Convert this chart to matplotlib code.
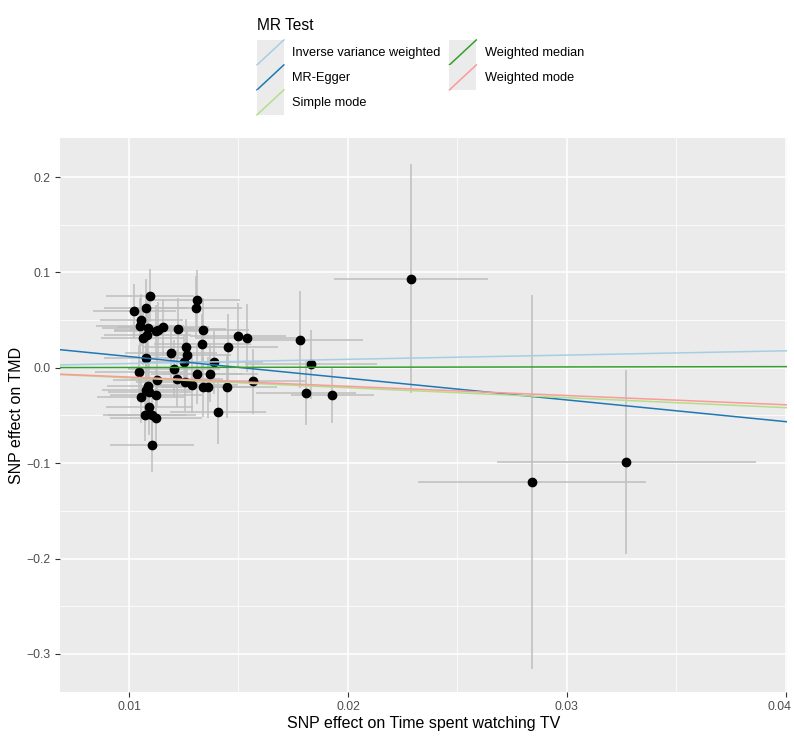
import matplotlib.pyplot as plt
from matplotlib.legend_handler import HandlerBase
from matplotlib.lines import Line2D
from matplotlib.patches import Rectangle
from matplotlib.transforms import ScaledTranslation

plt.rcParams['font.family'] = ['Liberation Sans', 'DejaVu Sans']

# SNP effects on exposure (x) and outcome (y) with standard errors
beta_exp = [0.01096, 0.01024, 0.01078, 0.01309, 0.01306, 0.01056, 0.01049, 0.01087,
            0.01063, 0.01084, 0.01123, 0.01132, 0.01157, 0.01224, 0.01339, 0.01335,
            0.01260, 0.01190, 0.01266, 0.01253, 0.01390, 0.01451, 0.01498, 0.01540,
            0.01078, 0.01205, 0.01047, 0.01309, 0.01368, 0.01129, 0.01221, 0.01254,
            0.01286, 0.01088, 0.01078, 0.01093, 0.01056, 0.01123, 0.01337, 0.01362,
            0.01446, 0.01565, 0.01093, 0.01072, 0.01105, 0.01123, 0.01408, 0.01105,
            0.01780, 0.01832, 0.01809, 0.01928, 0.02288, 0.02839, 0.03272]
beta_out = [0.0758, 0.0597, 0.0629, 0.0716, 0.0629, 0.0500, 0.0437, 0.0416,
            0.0311, 0.0343, 0.0388, 0.0395, 0.0423, 0.0409, 0.0395, 0.0252,
            0.0213, 0.0154, 0.0129, 0.0066, 0.0059, 0.0213, 0.0335, 0.0311,
            0.0108, -0.0010, -0.0039, -0.0066, -0.0063, -0.0126, -0.0115, -0.0147,
            -0.0178, -0.0189, -0.0231, -0.0255, -0.0304, -0.0287, -0.0206, -0.0203,
            -0.0199, -0.0143, -0.0412, -0.0490, -0.0500, -0.0524, -0.0465, -0.0814,
            0.0296, 0.0035, -0.0260, -0.0286, 0.0933, -0.1194, -0.0984]
se_exp = [0.0020, 0.0019, 0.0019, 0.0020, 0.0021, 0.0019, 0.0020, 0.0021,
          0.0019, 0.0020, 0.0019, 0.0020, 0.0021, 0.0022, 0.0021, 0.0022,
          0.0020, 0.0021, 0.0020, 0.0021, 0.0022, 0.0023, 0.0022, 0.0023,
          0.0019, 0.0021, 0.0020, 0.0021, 0.0022, 0.0020, 0.0021, 0.0022,
          0.0021, 0.0019, 0.0020, 0.0019, 0.0020, 0.0021, 0.0022, 0.0021,
          0.0023, 0.0024, 0.0020, 0.0019, 0.0020, 0.0021, 0.0022, 0.0019,
          0.0029, 0.0030, 0.0023, 0.0019, 0.0035, 0.0052, 0.0059]
se_out = [0.028, 0.028, 0.030, 0.031, 0.033, 0.027, 0.029, 0.031,
          0.028, 0.030, 0.027, 0.029, 0.030, 0.032, 0.034, 0.031,
          0.030, 0.029, 0.031, 0.028, 0.033, 0.035, 0.034, 0.036,
          0.027, 0.030, 0.028, 0.031, 0.030, 0.029, 0.030, 0.031,
          0.030, 0.028, 0.027, 0.029, 0.028, 0.030, 0.031, 0.032,
          0.033, 0.034, 0.029, 0.028, 0.030, 0.031, 0.033, 0.028,
          0.051, 0.036, 0.034, 0.029, 0.120, 0.196, 0.0965]

# MR method fits
methods = ['Inverse variance weighted', 'MR-Egger', 'Simple mode',
           'Weighted median', 'Weighted mode']
slopes = [0.445, -2.277, -1.045, 0.03, -0.97]
intercepts = [0.0, 0.0346, 0.0, 0.0, 0.0]
colors = ['#a6cee3', '#1f78b4', '#b2df8a', '#33a02c', '#fb9a99']


class DiagKey(HandlerBase):
    def create_artists(self, legend, orig_handle, xdescent, ydescent,
                       width, height, fontsize, trans):
        bg = Rectangle((-xdescent, -ydescent), width, height,
                       facecolor='#EBEBEB', edgecolor='none', transform=trans)
        ln = Line2D([-xdescent, -xdescent + width], [-ydescent, -ydescent + height],
                    color=orig_handle.get_color(), lw=orig_handle.get_linewidth(),
                    transform=trans)
        return [bg, ln]


fig = plt.figure(figsize=(7.94, 7.41), dpi=100)
ax = fig.add_axes([60 / 794, 1 - 692 / 741, 727 / 794, 554 / 741])
ax.set_facecolor('#EBEBEB')
for s in ax.spines.values():
    s.set_visible(False)

ax.set_xlim(0.00685, 0.04005)
ax.set_ylim(-0.340, 0.241)
ax.set_xticks([0.01, 0.02, 0.03, 0.04])
ax.set_xticklabels(['0.01', '0.02', '0.03', '0.04'])
ax.set_xticks([0.015, 0.025, 0.035], minor=True)
ax.set_yticks([-0.3, -0.2, -0.1, 0.0, 0.1, 0.2])
ax.set_yticklabels(['\u22120.3', '\u22120.2', '\u22120.1', '0.0', '0.1', '0.2'])
ax.set_yticks([-0.25, -0.15, -0.05, 0.05, 0.15], minor=True)
ax.grid(which='major', color='white', linewidth=1.1)
ax.grid(which='minor', color='white', linewidth=0.55)
ax.set_axisbelow(True)
ax.tick_params(which='major', length=3.5, width=0.8, color='#333333',
               labelcolor='#4D4D4D', labelsize=8.8, pad=3)
ax.tick_params(which='minor', length=0)

# keep the last x label inside the figure
last = ax.get_xticklabels()[-1]
last.set_transform(last.get_transform() + ScaledTranslation(-6 / 100, 0, fig.dpi_scale_trans))

ax.errorbar(beta_exp, beta_out, yerr=se_out, fmt='none', ecolor='#BEBEBE',
            elinewidth=1.1, capsize=0, zorder=2)
ax.errorbar(beta_exp, beta_out, xerr=se_exp, fmt='none', ecolor='#BEBEBE',
            elinewidth=1.1, capsize=0, zorder=2)
ax.scatter(beta_exp, beta_out, s=36, color='black', zorder=3)

handles = []
for m, b, c, name in zip(slopes, intercepts, colors, methods):
    ax.axline((0, b), slope=m, color=c, lw=1.1, zorder=4, label=name)
    handles.append(Line2D([], [], color=c, lw=1.1))

ax.set_xlabel('SNP effect on Time spent watching TV', fontsize=11.5, labelpad=2)
ax.set_ylabel('SNP effect on TMD', fontsize=11.5, labelpad=2)

leg = fig.legend(handles, methods, ncol=2, loc='upper left',
                 bbox_to_anchor=(257 / 794, 1 - 18 / 741), frameon=False,
                 title='MR Test', title_fontsize=11.2, fontsize=9.2,
                 handlelength=2.1, handleheight=2.63, labelspacing=0.0,
                 handletextpad=0.65, columnspacing=0.7, borderpad=0,
                 borderaxespad=0, alignment='left',
                 handler_map={Line2D: DiagKey()})
leg._legend_box.sep = 5

fig.savefig('out.png', dpi=100)
